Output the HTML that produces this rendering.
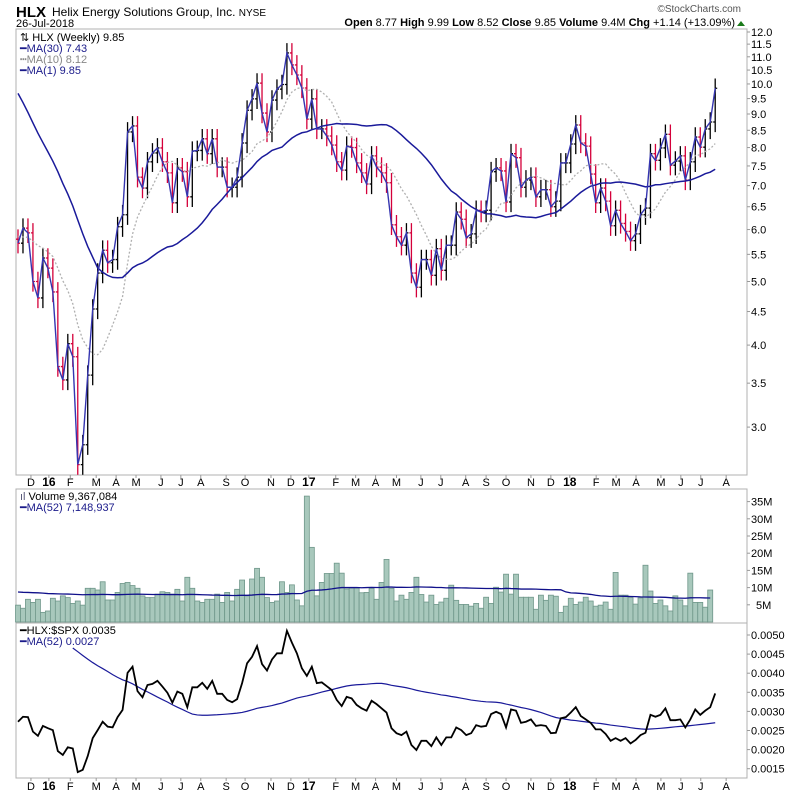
<!DOCTYPE html>
<html><head><meta charset="utf-8"><style>
body{margin:0;background:#fff;}
svg{display:block;font-family:"Liberation Sans",sans-serif;}
</style></head><body>
<svg id="c" width="800" height="795" viewBox="0 0 800 795">
<g>
<text x="16" y="17" font-size="15" font-weight="bold">HLX</text>
<text x="52" y="16" font-size="12">Helix Energy Solutions Group, Inc. <tspan font-size="10">NYSE</tspan></text>
<text x="16" y="27" font-size="11">26-Jul-2018</text>
<text x="741" y="12" font-size="10" text-anchor="end" fill="#555">©StockCharts.com</text>
<text x="735" y="26" font-size="11" text-anchor="end"><tspan font-weight="bold">Open</tspan> 8.77  <tspan font-weight="bold">High</tspan> 9.99  <tspan font-weight="bold">Low</tspan> 8.52  <tspan font-weight="bold">Close</tspan> 9.85  <tspan font-weight="bold">Volume</tspan> 9.4M  <tspan font-weight="bold">Chg</tspan> +1.14 (+13.09%)</text>
<path d="M737 26 L741 21 L745 26 Z" fill="#1a7a1a"/>
</g>
<rect x="16" y="29" width="731" height="446" fill="none" stroke="#b0b0b0"/>
<rect x="16" y="489" width="731" height="134" fill="none" stroke="#b0b0b0"/>
<rect x="16" y="623" width="731" height="155" fill="none" stroke="#b0b0b0"/>
<g id="gPrice"></g><g id="gVol"></g><g id="gRs"></g><g id="gAxes"></g>
<g font-size="11">
<text x="20" y="41">⇅ HLX (Weekly) 9.85</text>
<text x="20" y="52" fill="#1a1a8a">━MA(30) 7.43</text>
<text x="20" y="63" fill="#888">┅MA(10) 8.12</text>
<text x="20" y="74" fill="#1a1a8a">━MA(1) 9.85</text>
</g>
<g font-size="11">
<text x="20" y="500"><tspan fill="#557">ıl</tspan> Volume 9,367,084</text>
<text x="20" y="511" fill="#1a1a8a">━MA(52) 7,148,937</text>
</g>
<g font-size="11">
<text x="20" y="634">━HLX:$SPX 0.0035</text>
<text x="20" y="645" fill="#1a1a8a">━MA(52) 0.0027</text>
</g>
</svg>
<script>
const closes=[5.72,6.03,5.93,5.0,4.72,5.43,5.24,4.82,3.71,3.54,4.02,3.84,2.63,2.82,3.6,4.54,5.15,5.58,5.34,5.40,6.06,6.32,8.45,8.63,7.21,6.94,7.61,7.85,7.99,7.61,7.32,6.59,7.45,7.35,6.73,7.90,7.92,8.25,7.83,8.25,7.47,7.47,6.96,6.96,7.21,8.13,9.12,9.49,10.03,9.03,8.45,9.45,9.82,9.98,11.15,10.69,10.32,9.86,8.84,9.49,8.54,8.54,8.33,8.07,7.61,7.39,8.04,8.0,7.58,7.32,7.04,7.77,7.47,7.32,7.07,6.10,5.85,5.68,5.93,5.15,4.90,5.40,5.40,5.11,5.61,5.20,5.68,5.68,6.38,6.22,5.83,5.91,6.42,6.38,6.42,7.35,7.45,7.37,6.61,7.83,7.72,6.96,7.14,7.21,6.73,6.9,6.9,6.50,6.63,7.58,7.58,8.1,8.66,8.13,8.04,7.29,6.59,6.94,6.63,6.08,6.42,6.13,5.96,5.77,5.91,6.32,6.47,7.83,7.65,7.99,8.38,7.52,7.63,7.77,7.14,7.61,8.30,8.01,8.54,8.75,9.85];
const priorCloses=[15.2,15.5,14.8,14.0,13.6,13.0,12.5,12.0,12.4,11.8,12.2,12.0,11.6,11.3,10.8,11.2,8.0,7.0,6.5,6.2,6.2,6.0,5.8,5.6,5.9,6.0,5.7,5.9,5.8];
const volumes=[4.9,4.0,6.6,5.7,6.6,2.8,3.2,6.9,6.1,7.6,7.1,5.4,6.1,4.9,9.8,9.8,9.3,11.7,6.4,6.4,8.6,11.2,11.5,10.6,9.8,7.6,7.1,7.1,8.1,8.8,8.6,8.1,9.5,6.1,13.0,9.8,6.1,5.7,6.6,6.6,8.1,5.7,8.6,6.1,9.5,12.2,7.6,12.5,15.6,13.0,7.1,5.7,6.1,11.7,8.6,10.8,6.4,4.7,36.6,21.7,7.6,11.5,14.1,14.1,17.1,14.2,9.6,9.9,9.9,8.5,8.6,9.8,6.6,11.5,18.2,9.8,6.1,7.8,6.6,8.6,13.0,8.0,5.8,7.8,5.1,5.8,6.9,10.7,6.3,5.1,5.1,4.6,5.4,4.0,7.2,5.4,10.1,8.7,13.9,8.1,13.9,7.2,7.2,7.2,3.7,7.8,6.3,7.8,7.5,2.8,4.6,6.9,5.1,5.8,7.2,6.1,4.6,4.9,5.8,3.7,14.4,7.8,7.8,7.1,5.2,7.0,16.5,9.0,5.4,6.4,4.7,3.2,7.6,6.4,4.7,14.2,5.7,5.7,4.3,9.3];
const priorVolumes=[9.0,8.5,9.2,8.8,8.0,9.5,8.6,8.9,9.1,8.4,8.7,9.0,8.8,8.2,9.3,8.9,8.6,9.0,8.5,8.8,9.2,8.7,8.9,8.4,9.1,8.8,8.6,9.0,8.7,8.9,8.5,9.2,8.8,8.6,9.0,8.7,8.9,8.5,9.1,8.8,8.6,9.0,8.7,8.9,8.8,8.6,9.0,8.7,8.9,8.8,8.7];
const rsValues=[27.3,28.6,28.5,24.7,23.6,26.2,25.6,25.1,19.6,18.6,20.6,20.3,14.1,14.7,18.3,23.0,25.1,27.3,26.0,25.8,28.5,30.4,40.1,41.7,35.3,33.7,36.9,37.2,38.0,36.5,34.9,32.3,35.2,34.6,31.1,36.3,36.3,37.5,35.9,38.0,34.6,34.6,33.0,32.4,33.2,37.4,42.6,44.3,47.1,42.4,40.7,43.6,45.2,45.2,51.1,48.0,45.2,41.3,39.3,41.7,37.4,37.6,36.6,35.6,33.0,31.4,33.8,33.4,31.7,30.8,30.2,32.8,31.9,30.8,29.7,25.6,24.3,23.8,24.7,21.2,19.9,22.3,22.3,20.9,23.2,21.2,23.2,23.2,25.8,25.1,23.8,24.3,26.4,26.0,26.2,29.3,29.9,29.3,25.8,30.5,30.2,27.0,27.3,27.9,26.2,26.4,26.2,24.3,24.4,28.2,28.5,29.7,31.1,28.8,27.9,27.0,25.3,25.3,24.1,22.3,23.0,22.3,23.0,21.6,22.5,23.8,24.4,29.1,28.6,29.1,30.8,27.7,27.7,27.9,25.8,27.9,30.5,29.1,30.2,31.1,34.7];
const rsPrior=[64,66,68,70,68,66,66,68,66,64,64,72,74,72,70,72,74,70,68,70,68,66,64,66,48,42,36,34,32,30,28,26,27,28,26,25,27,29,30,30];
const priceTicks=["12.0","11.5","11.0","10.5","10.0","9.5","9.0","8.5","8.0","7.5","7.0","6.5","6.0","5.5","5.0","4.5","4.0","3.5","3.0"];
const volTicks=["5M","10M","15M","20M","25M","30M","35M"];
const rsTicks=["0.0050","0.0045","0.0040","0.0035","0.0030","0.0025","0.0020","0.0015"];
const monthLabels=["D","16","F","M","A","M","J","J","A","S","O","N","D","17","F","M","A","M","J","J","A","S","O","N","D","18","F","M","A","M","J","J","A"];
const monthWeeks=[2.6,6.2,10.5,15.7,19.7,23.7,28.7,32.7,36.7,41.8,45.6,50.8,54.8,58.4,63.8,67.8,71.8,76.0,80.9,84.9,89.9,94.0,98.0,103.0,107.0,110.8,116.1,120.1,124.1,129.1,133.1,137.1,142.2];
const NS="http://www.w3.org/2000/svg";
const xOf=i=>18+i*4.98;
const yP=p=>32+285*Math.log(12/p);
const yV=v=>622-v*3.44;
const yR=u=>635+(50-u)*3.82;
function mk(parent,tag,attrs){const e=document.createElementNS(NS,tag);for(const k in attrs)e.setAttribute(k,attrs[k]);document.getElementById(parent).appendChild(e);return e;}
function ma(arr,prior,n,i){const all=prior.concat(arr);const j=i+prior.length;if(j-n+1<0)return null;let s=0;for(let k=j-n+1;k<=j;k++)s+=all[k];return s/n;}
function poly(parent,pts,stroke,w,dash,name){const e=mk(parent,'polyline',{points:pts.join(' '),fill:'none',stroke:stroke,'stroke-width':w});if(dash)e.setAttribute('stroke-dasharray',dash);

return e;}
for(let i=0;i<closes.length;i++){
 const c=closes[i],o=i?closes[i-1]:priorCloses[priorCloses.length-1];
 const hi=Math.max(o,c)*1.035,lo=Math.min(o,c)*0.965;
 const col=c<o?'#d4003a':'#000';const x=xOf(i);
 const l=mk('gPrice','path',{d:`M${x} ${yP(hi)}V${yP(lo)}M${x-2} ${yP(o)}H${x}M${x} ${yP(c)}H${x+2}`,stroke:col,'stroke-width':1.3,fill:'none'});
 
 
}
const p30=[],p10=[],p1=[];
for(let i=0;i<closes.length;i++){p30.push(xOf(i)+','+yP(ma(closes,priorCloses,30,i)));p10.push(xOf(i)+','+yP(ma(closes,priorCloses,10,i)));p1.push(xOf(i)+','+yP(closes[i]));}
poly('gPrice',p10,'#b0b0b0',1.3,'2,2','ma10-line');
poly('gPrice',p30,'#1a1a9a',1.5,null,'ma30-line');
poly('gPrice',p1,'#3535b0',1.4,null,'ma1-line');
for(let i=0;i<volumes.length;i++){const r=mk('gVol','rect',{x:xOf(i)-2.5,y:yV(volumes[i]),width:5,height:622-yV(volumes[i]),fill:'#a8c8bc',stroke:'#6f978a','stroke-width':0.8});

}
const vm=[];for(let i=0;i<volumes.length;i++)vm.push(xOf(i)+','+yV(ma(volumes,priorVolumes,52,i)));
poly('gVol',vm,'#10108a',1.3,null,'volume-ma-line');
const rm=[],rl=[];for(let i=0;i<rsValues.length;i++){const m=ma(rsValues,rsPrior,52,i);if(m!==null)rm.push(xOf(i)+','+yR(m));rl.push(xOf(i)+','+yR(rsValues[i]));}
poly('gRs',rm,'#1a1a9a',1.2,null,'rs-ma-line');
poly('gRs',rl,'#000',1.8,null,'rs-line');
priceTicks.forEach(t=>{const y=yP(+t);mk('gAxes','line',{x1:747,x2:750,y1:y,y2:y,stroke:'#999'});const e=mk('gAxes','text',{x:751,y:y+4,'font-size':11});e.textContent=t;

});
volTicks.forEach(t=>{const y=yV(parseFloat(t));mk('gAxes','line',{x1:747,x2:750,y1:y,y2:y,stroke:'#999'});const e=mk('gAxes','text',{x:t.length<3?756:751,y:y+4,'font-size':11});e.textContent=t;

});
rsTicks.forEach(t=>{const y=yR(parseFloat(t)*10000);mk('gAxes','line',{x1:747,x2:750,y1:y,y2:y,stroke:'#999'});const e=mk('gAxes','text',{x:751,y:y+4,'font-size':11});e.textContent=t;

});
monthLabels.forEach((m,k)=>{const x=xOf(monthWeeks[k]);const bold=m.length>1;[486,790].forEach(y=>{const e=mk('gAxes','text',{x:x,y:y,'font-size':bold?12:11,'font-weight':bold?'bold':'normal','text-anchor':'middle'});e.textContent=m;

});
mk('gAxes','line',{x1:x,x2:x,y1:475,y2:478,stroke:'#999'});mk('gAxes','line',{x1:x,x2:x,y1:778,y2:781,stroke:'#999'});});
</script>
</body></html>
